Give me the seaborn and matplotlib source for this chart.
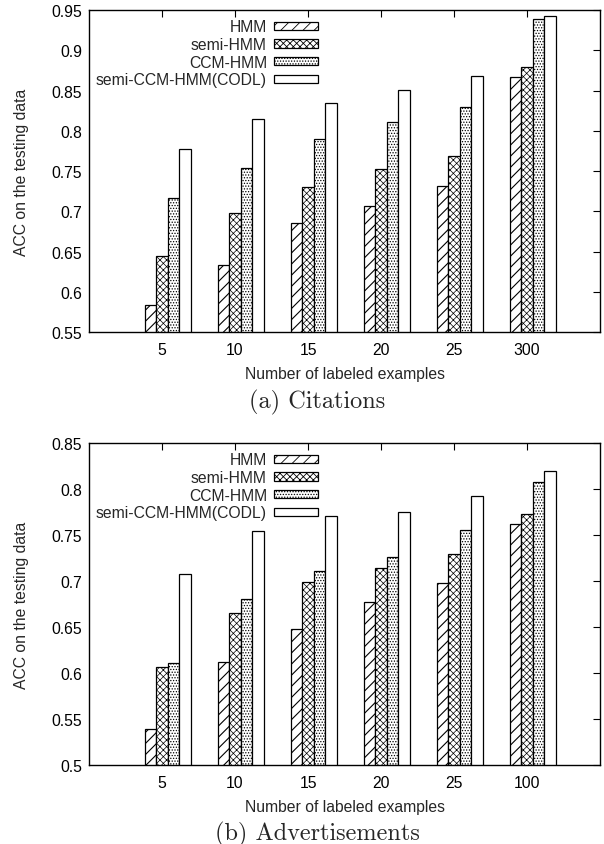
import numpy as np
import pandas as pd
import matplotlib
matplotlib.use("Agg")
import matplotlib.pyplot as plt
import seaborn as sns

# Data -----------------------------------
methods = ["HMM", "semi-HMM", "CCM-HMM", "semi-CCM-HMM(CODL)"]

cats_a = ["5", "10", "15", "20", "25", "300"]
hmm_a = [0.584, 0.633, 0.686, 0.707, 0.731, 0.867]
semi_hmm_a = [0.644, 0.698, 0.730, 0.753, 0.769, 0.879]
ccm_hmm_a = [0.716, 0.754, 0.790, 0.811, 0.830, 0.939]
codl_a = [0.777, 0.815, 0.834, 0.851, 0.868, 0.943]

cats_b = ["5", "10", "15", "20", "25", "100"]
hmm_b = [0.539, 0.612, 0.648, 0.677, 0.698, 0.762]
semi_hmm_b = [0.607, 0.665, 0.699, 0.714, 0.729, 0.773]
ccm_hmm_b = [0.611, 0.681, 0.711, 0.726, 0.756, 0.808]
codl_b = [0.708, 0.754, 0.771, 0.775, 0.792, 0.820]

yticks_a = [0.55, 0.6, 0.65, 0.7, 0.75, 0.8, 0.85, 0.9, 0.95]
yticks_b = [0.5, 0.55, 0.6, 0.65, 0.7, 0.75, 0.8, 0.85]

hatches = ["///", "xxxxx", "......", ""]
hatch_lw = [0.8, 0.5, 0.6, 0.6]

sns.set_style("white")
plt.rcParams["font.family"] = ["Liberation Sans", "DejaVu Sans"]
plt.rcParams["hatch.linewidth"] = 0.6
FS = 11.3


def make_df(cats, series):
    rows = []
    for m, vals in zip(methods, series):
        for c, v in zip(cats, vals):
            rows.append({"examples": c, "acc": v, "method": m})
    return pd.DataFrame(rows)


def draw_panel(ax, cats, series, yticks, caption, cap_y):
    df = make_df(cats, series)
    total_w = 0.636
    sns.barplot(data=df, x="examples", y="acc", hue="method", order=cats,
                hue_order=methods, palette=["white"] * 4, edgecolor="black",
                linewidth=0.9, width=total_w, gap=0, legend=False, ax=ax)
    for cont, h, hlw in zip(ax.containers, hatches, hatch_lw):
        for bar in cont:
            bar.set_hatch(h)
            if hasattr(bar, "set_hatch_linewidth"):
                bar.set_hatch_linewidth(hlw)

    w = total_w / 4
    # gnuplot puts the tick under the second bar of each cluster
    ax.set_xticks(np.arange(len(cats)) - w / 2, cats)
    ax.set_xlim(-1 - w / 2, len(cats) - w / 2)
    ax.set_ylim(yticks[0], yticks[-1])
    ax.set_yticks(yticks, [f"{t:g}" for t in yticks])

    ax.tick_params(direction="in", length=5, width=0.8, top=True, right=True,
                   labelsize=FS, colors="black")
    ax.tick_params(axis="x", pad=7)
    ax.tick_params(axis="y", pad=5)
    for s in ax.spines.values():
        s.set_color("black")
        s.set_linewidth(1.0)

    ax.set_xlabel("Number of labeled examples", fontsize=FS, labelpad=7)
    ax.set_ylabel("ACC on the testing data", fontsize=FS, labelpad=16)

    ax.legend(handles=list(ax.containers), labels=methods, markerfirst=False,
              frameon=False, loc="upper right", bbox_to_anchor=(0.448, 0.971),
              handlelength=2.8, handleheight=0.45, handletextpad=0.45,
              labelspacing=0.17, borderpad=0, borderaxespad=0, fontsize=FS)

    fig.text(0.525, cap_y, caption, ha="center", va="center",
             family="cmr10", fontsize=17.5)


fig = plt.figure(figsize=(6.04, 8.45), dpi=100)
ax_a = fig.add_axes([0.1474, 0.6059, 0.846, 0.381])
ax_b = fig.add_axes([0.1474, 0.0935, 0.846, 0.381])

draw_panel(ax_a, cats_a, [hmm_a, semi_hmm_a, ccm_hmm_a, codl_a], yticks_a,
           "(a) Citations", 1 - 402 / 845)
draw_panel(ax_b, cats_b, [hmm_b, semi_hmm_b, ccm_hmm_b, codl_b], yticks_b,
           "(b) Advertisements", 1 - 834 / 845)

fig.savefig("out.png", dpi=100)
